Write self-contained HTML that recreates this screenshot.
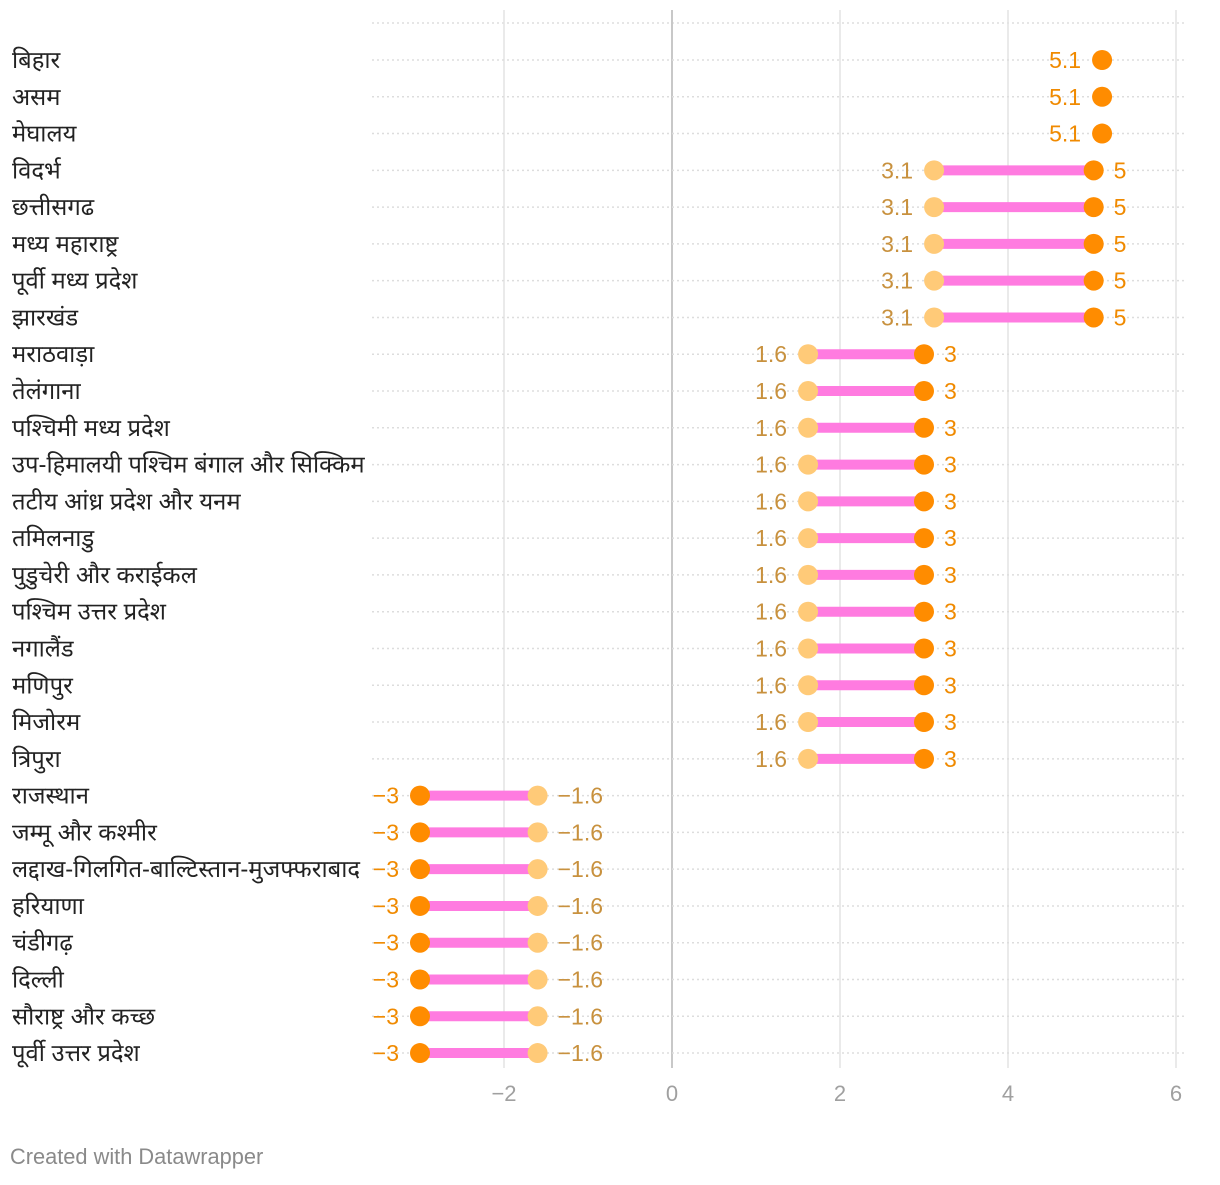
<!DOCTYPE html>
<html><head><meta charset="utf-8"><style>
body{margin:0;background:#fff;width:1220px;height:1180px;overflow:hidden;font-family:"Liberation Sans","Noto Sans CJK SC",sans-serif}
</style></head><body>
<svg id="c" width="1220" height="1180" xmlns="http://www.w3.org/2000/svg"></svg>
<script>
const categories=["बिहार","असम","मेघालय","विदर्भ","छत्तीसगढ","मध्य महाराष्ट्र","पूर्वी मध्य प्रदेश","झारखंड","मराठवाड़ा","तेलंगाना","पश्चिमी मध्य प्रदेश","उप-हिमालयी पश्चिम बंगाल और सिक्किम","तटीय आंध्र प्रदेश और यनम","तमिलनाडु","पुडुचेरी और कराईकल","पश्चिम उत्तर प्रदेश","नगालैंड","मणिपुर","मिजोरम","त्रिपुरा","राजस्थान","जम्मू और कश्मीर","लद्दाख-गिलगित-बाल्टिस्तान-मुजफ्फराबाद","हरियाणा","चंडीगढ़","दिल्ली","सौराष्ट्र और कच्छ","पूर्वी उत्तर प्रदेश"];
const startValues=[5.12,5.12,5.12,3.12,3.12,3.12,3.12,3.12,1.62,1.62,1.62,1.62,1.62,1.62,1.62,1.62,1.62,1.62,1.62,1.62,-1.6,-1.6,-1.6,-1.6,-1.6,-1.6,-1.6,-1.6];
const endValues=[5.12,5.12,5.12,5.02,5.02,5.02,5.02,5.02,3.0,3.0,3.0,3.0,3.0,3.0,3.0,3.0,3.0,3.0,3.0,3.0,-3.0,-3.0,-3.0,-3.0,-3.0,-3.0,-3.0,-3.0];
const xTicks=[-2,0,2,4,6];
const xTickLabels=["−2","0","2","4","6"];

const svg=document.getElementById('c');
const NS="http://www.w3.org/2000/svg";
const x=v=>672+v*84;
const y=i=>60+i*36.78;
function fmt(v){let s=(Math.round(v*10)/10).toString();return s.replace('-','−');}
function mk(tag,attrs,parent){const e=document.createElementNS(NS,tag);for(const k in attrs)e.setAttribute(k,attrs[k]);(parent||svg).appendChild(e);return e;}

let e=mk('line',{x1:372,x2:1186,y1:23,y2:23,stroke:'#ddd','stroke-width':1.5,'stroke-dasharray':'2,3'});


xTicks.forEach((t,i)=>{
  const g=mk('line',{x1:x(t),x2:x(t),y1:10,y2:1068,stroke:t===0?'#c8c8c8':'#e4e4e4','stroke-width':t===0?2:1.5});
  
  
  const tl=mk('text',{x:x(t),y:1101,'text-anchor':'middle','font-size':22,fill:'#a0a0a0'});
  tl.textContent=xTickLabels[i];
  
  
});
categories.forEach((c,i)=>{
  const yy=y(i);
  const gl=mk('line',{x1:372,x2:1186,y1:yy,y2:yy,stroke:'#ddd','stroke-width':1.5,'stroke-dasharray':'2,3'});
  
  
  const lb=mk('text',{x:12,y:yy+8,'font-size':23.8,fill:'#222'});
  lb.textContent=c;
  
  
  const s=startValues[i],en=endValues[i];
  const xs=x(s),xe=x(en);
  if(Math.abs(s-en)>0.001){
    const ln=mk('line',{x1:xs,x2:xe,y1:yy,y2:yy,stroke:'#ff7be0','stroke-width':10});
    
    
    const d1=mk('circle',{cx:xs,cy:yy,r:10,fill:'#ffca78'});
    
    
  }
  const d2=mk('circle',{cx:xe,cy:yy,r:10,fill:'#ff8c00'});
  
  
  const lo=Math.min(s,en),hi=Math.max(s,en);
  if(Math.abs(s-en)<=0.001){
    const t=mk('text',{x:xe-21,y:yy+8,'text-anchor':'end','font-size':23,fill:'#f08a00'});
    t.textContent=fmt(en);
    
    
  } else {
    const loIsStart=(lo===s);
    const tl=mk('text',{x:x(lo)-21,y:yy+8,'text-anchor':'end','font-size':23,fill:loIsStart?'#c8913e':'#f08a00'});
    tl.textContent=fmt(lo);
    
    
    const tr=mk('text',{x:x(hi)+20,y:yy+8,'text-anchor':'start','font-size':23,fill:loIsStart?'#f08a00':'#c8913e'});
    tr.textContent=fmt(hi);
    
    
  }
});
const f=mk('text',{x:10,y:1164,'font-size':21.8,fill:'#8a8a8a'});
f.textContent='Created with Datawrapper';


</script>
</body></html>
